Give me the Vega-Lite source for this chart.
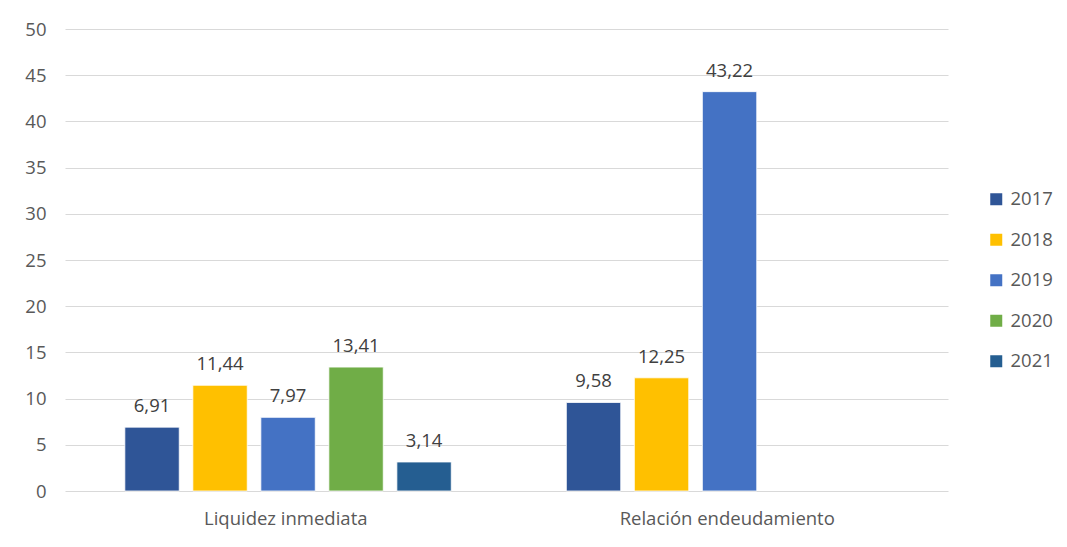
{
  "$schema": "https://vega.github.io/schema/vega-lite/v6.json",
  "width": 883,
  "height": 462,
  "autosize": {"type": "none"},
  "padding": {"left": 65, "top": 29, "right": 119, "bottom": 56},
  "background": "white",
  "config": {
    "view": {"stroke": null},
    "font": "Open Sans",
    "locale": {"number": {"decimal": ",", "thousands": ".", "grouping": [3], "currency": ["", ""]}}
  },
  "data": {
    "values": [
      {"indicador": "Liquidez inmediata", "year": "2017", "value": 6.91},
      {"indicador": "Liquidez inmediata", "year": "2018", "value": 11.44},
      {"indicador": "Liquidez inmediata", "year": "2019", "value": 7.97},
      {"indicador": "Liquidez inmediata", "year": "2020", "value": 13.41},
      {"indicador": "Liquidez inmediata", "year": "2021", "value": 3.14},
      {"indicador": "Relación endeudamiento", "year": "2017", "value": 9.58},
      {"indicador": "Relación endeudamiento", "year": "2018", "value": 12.25},
      {"indicador": "Relación endeudamiento", "year": "2019", "value": 43.22}
    ]
  },
  "encoding": {
    "x": {
      "field": "indicador",
      "type": "nominal",
      "sort": ["Liquidez inmediata", "Relación endeudamiento"],
      "scale": {"paddingInner": 0, "paddingOuter": 0},
      "axis": {
        "title": null,
        "labelAngle": 0,
        "ticks": false,
        "domain": false,
        "labelPadding": 18,
        "labelFontSize": 18.5,
        "labelLimit": 0,
        "labelColor": "#595959",
        "labelFont": "Open Sans"
      }
    },
    "xOffset": {
      "field": "year",
      "type": "nominal",
      "scale": {"domain": ["2017", "2018", "2019", "2020", "2021"], "paddingInner": 0.2, "paddingOuter": 0.846, "align": 0.52}
    },
    "y": {
      "field": "value",
      "type": "quantitative",
      "scale": {"domain": [0, 50], "nice": false},
      "axis": {
        "title": null,
        "values": [0, 5, 10, 15, 20, 25, 30, 35, 40, 45, 50],
        "ticks": false,
        "domain": false,
        "labelPadding": 19,
        "labelFontSize": 18.5,
        "labelColor": "#595959",
        "labelFont": "Open Sans",
        "gridColor": "#d9d9d9",
        "gridWidth": 1
      }
    }
  },
  "layer": [
    {
      "mark": {"type": "bar", "stroke": "white", "strokeWidth": 0.8},
      "encoding": {
        "color": {
          "field": "year",
          "type": "nominal",
          "scale": {
            "domain": ["2017", "2018", "2019", "2020", "2021"],
            "range": ["#2F5597", "#FFC000", "#4472C4", "#70AD47", "#255E91"]
          },
          "legend": {
            "title": null,
            "orient": "none",
            "legendX": 922,
            "legendY": 161,
            "symbolType": "square",
            "symbolSize": 144,
            "symbolStrokeWidth": 0,
            "labelFontSize": 18.5,
            "labelColor": "#595959",
            "labelFont": "Open Sans",
            "labelOffset": 5,
            "rowPadding": 21.5
          }
        }
      }
    },
    {
      "mark": {"type": "text", "baseline": "alphabetic", "dy": -15, "fontSize": 18.5, "color": "#404040", "font": "Open Sans"},
      "encoding": {
        "text": {"field": "value", "type": "quantitative", "format": ".2f"}
      }
    }
  ]
}
